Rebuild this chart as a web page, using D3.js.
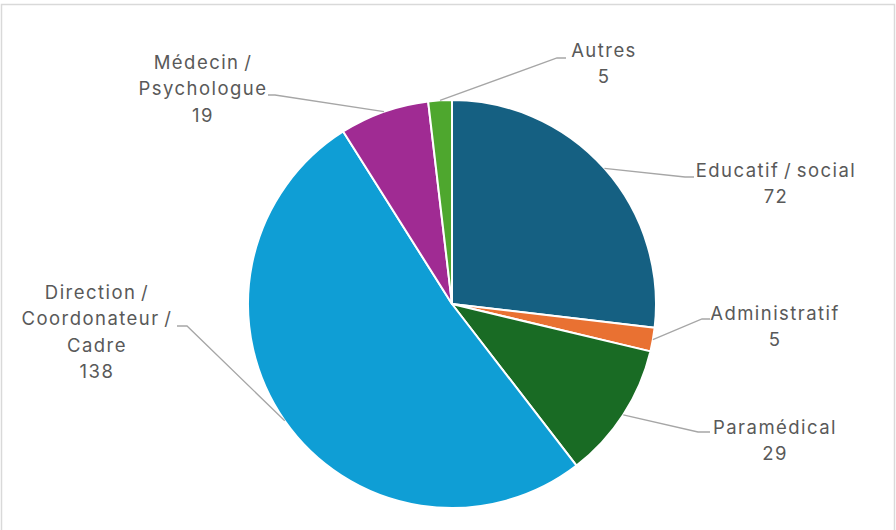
<!DOCTYPE html>
<html>
<head>
<meta charset="utf-8">
<script src="https://cdn.jsdelivr.net/npm/d3@7"></script>
<style>
  html, body { margin: 0; padding: 0; background: #fff; }
  svg { display: block; }
</style>
</head>
<body>
<svg id="chart" width="896" height="530"></svg>
<script>
const categories = ["Educatif / social", "Administratif", "Paramédical", "Direction / Coordonateur / Cadre", "Médecin / Psychologue", "Autres"];
const values = [72, 5, 29, 138, 19, 5];
const colors = ["#156082", "#E97132", "#196B24", "#0F9ED5", "#A02B93", "#4EA72E"];
const labelLines = [
  ["Educatif / social", "72"],
  ["Administratif", "5"],
  ["Paramédical", "29"],
  ["Direction /", "Coordonateur /", "Cadre", "138"],
  ["Médecin /", "Psychologue", "19"],
  ["Autres", "5"]
];

// layout (label anchor: center x, first line center y, leader elbow point, elbow end)
const labelLayout = [
  { x: 776, y: 170, ex: 685, ey: 177, hx: 694 },
  { x: 775, y: 313, ex: 702, ey: 319, hx: 710 },
  { x: 775, y: 427, ex: 698, ey: 432, hx: 710 },
  { x: 97,  y: 292, ex: 187, ey: 326, hx: 177 },
  { x: 203, y: 62,  ex: 275, ey: 95,  hx: 268 },
  { x: 604, y: 50,  ex: 557, ey: 58,  hx: 566 }
];

const cx = 452, cy = 304, R = 204;
const lineH = 26.3;
const fontSize = 18.5;
const fontFamily = "Inter, 'Open Sans', sans-serif";

const svg = d3.select("#chart");

svg.append("rect")
  .attr("x", 1.5).attr("y", 4.5)
  .attr("width", 893).attr("height", 560)
  .attr("fill", "#fff")
  .attr("stroke", "#D9D9D9").attr("stroke-width", 1.5);

const data = categories.map((c, i) => ({ name: c, value: values[i], color: colors[i], i }));

const pie = d3.pie().value(d => d.value).sort(null).startAngle(0).endAngle(2 * Math.PI);
const arcs = pie(data);
const arc = d3.arc().innerRadius(0).outerRadius(R);

const g = svg.append("g").attr("transform", `translate(${cx},${cy})`);

g.selectAll("path.slice")
  .data(arcs)
  .join("path")
  .attr("class", "slice")
  .attr("d", arc)
  .attr("fill", d => d.data.color)
  .attr("stroke", "#fff")
  .attr("stroke-width", 2)
  .attr("stroke-linejoin", "round");

// leader lines
arcs.forEach((a, i) => {
  const mid = (a.startAngle + a.endAngle) / 2;
  const px = cx + R * Math.sin(mid);
  const py = cy - R * Math.cos(mid);
  const L = labelLayout[i];
  svg.append("polyline")
    .attr("points", `${px},${py} ${L.ex},${L.ey} ${L.hx},${L.ey}`)
    .attr("fill", "none")
    .attr("stroke", "#A6A6A6")
    .attr("stroke-width", 1.3);
});

// measure to mimic the wider original typeface
const probe = svg.append("text")
  .attr("font-family", fontFamily).attr("font-size", fontSize).text("Paramédical");
const w = probe.node().getComputedTextLength();
probe.remove();
const letterSpacing = Math.max(0, (124 - w) / 11);

// labels
labelLines.forEach((lines, i) => {
  const L = labelLayout[i];
  const t = svg.append("text")
    .attr("text-anchor", "middle")
    .attr("font-family", fontFamily)
    .attr("font-size", fontSize)
    .attr("letter-spacing", letterSpacing)
    .attr("word-spacing", -2)
    .attr("fill", "#595959");
  lines.forEach((s, k) => {
    t.append("tspan")
      .attr("x", L.x)
      .attr("y", L.y + k * lineH)
      .attr("dominant-baseline", "central")
      .text(s);
  });
});
</script>
</body>
</html>
